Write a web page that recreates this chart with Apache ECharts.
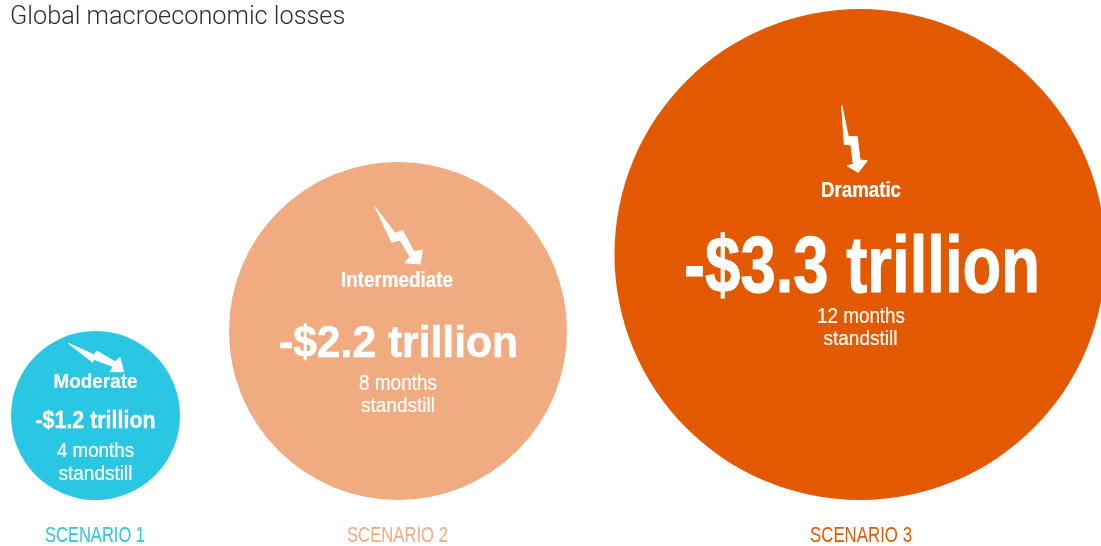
<!DOCTYPE html>
<html><head><meta charset="utf-8">
<style>html,body{margin:0;padding:0;background:#fff}#c{width:1101px;height:546px}</style>
<script src="https://cdn.jsdelivr.net/npm/echarts@6/dist/echarts.min.js"></script>
</head><body><div id="c"></div>
<script>
const titleText = 'Global macroeconomic losses';
const scenarios = ['SCENARIO 1', 'SCENARIO 2', 'SCENARIO 3'];
const severities = ['Moderate', 'Intermediate', 'Dramatic'];
const losses = ['-$1.2 trillion', '-$2.2 trillion', '-$3.3 trillion'];
const lossValues = [1.2, 2.2, 3.3];
const months = [4, 8, 12];

// layout (pixel-space axes); text spec = [y, fontSize, targetWidth, xOffset, strokeWidth]
const centerX = [95.5, 398, 860];
const diameters = [169, 338, 491];
const baseline = 500;
const colors = ['#29C7E3', '#F1AB80', '#E35900'];
const face = '"Liberation Sans",Arimo,sans-serif';
const layout = [
  { sev:[382,21,84,0,0.2], loss:[422,23,120,0,0.3], m1:[451,21,77,0,0.2], m2:[474,20,74,0,0.2], scen:[535.5,22,100,-0.5,0],
    bolt:[[-27.2,-72.2],[-1.2,-60.5],[1.2,-64.5],[19.5,-53.8],[24.5,-57.8],[28.2,-43.8],[14.5,-43.8],[17.8,-48.8],[-1.5,-56.2],[-2.8,-53.2]] },
  { sev:[281,22,112,-1,0.2], loss:[345,44,239,0.5,0.6], m1:[384,22,78,0,0.2], m2:[406,21,74,0,0.2], scen:[535.5,22,101,-0.5,0],
    bolt:[[-23,-124.3],[-3,-97.7],[4.7,-100.3],[16,-79.3],[24.3,-81],[22,-67],[7,-68.3],[12,-74.3],[2,-91],[-6.3,-88.7]] },
  { sev:[191,22,80,1,0.2], loss:[270,79,356,2,1], m1:[317,22,88,1,0.2], m2:[339,21,74,0.5,0.2], scen:[535.5,22,102,1,0],
    bolt:[[-18.3,-149.5],[-11.7,-117.8],[-2.7,-117.8],[0,-94.5],[7.3,-93.8],[-1.7,-82.2],[-12.7,-88.5],[-6.7,-90.5],[-9,-109.5],[-15.7,-110.2]] }
];

const measure = document.createElement('canvas').getContext('2d');
function txt(s, x, spec, weight, fill) {
  const font = weight+' '+spec[1]+'px '+face;
  measure.font = font;
  const sx = spec[2] / measure.measureText(s).width;
  return { type:'text', x:x+spec[3], y:spec[0], scaleX:sx, silent:true,
    style:{ text:s, fill:fill, textAlign:'center', textVerticalAlign:'middle', font:font,
            stroke: spec[4] ? fill : null, lineWidth: spec[4] } };
}

const chart = echarts.init(document.getElementById('c'), null, {renderer:'canvas'});
chart.setOption({
  animation:false,
  backgroundColor:'#fff',
  title:{ text:titleText, left:5, top:0,
    textStyle:{ fontFamily:'Roboto', fontWeight:300, fontSize:25.3, color:'#2e2e2e' } },
  grid:{ left:0, right:0, top:0, bottom:0 },
  xAxis:{ type:'value', min:0, max:1101, show:false },
  yAxis:{ type:'value', min:0, max:546, inverse:true, show:false },
  tooltip:{ show:false },
  series:[
    { type:'scatter', clip:false, silent:true, z:2,
      data: months.map((m,i)=>({ value:[centerX[i], baseline-diameters[i]/2, m],
        symbolSize:diameters[i], itemStyle:{ color:colors[i], opacity:1 } })) },
    { type:'custom', clip:false, silent:true, coordinateSystem:'cartesian2d', z:5,
      data: lossValues.map((v,i)=>[centerX[i], baseline-diameters[i]/2, v]),
      renderItem:(params, api)=>{
        const i = params.dataIndex;
        const c = api.coord([api.value(0), api.value(1)]);
        const L = layout[i];
        const W = '#fff';
        return { type:'group', children:[
          { type:'polygon', shape:{ points:L.bolt.map(p=>[c[0]+p[0], c[1]+p[1]]) },
            style:{ fill:W, stroke:W, lineWidth:1, lineJoin:'round' } },
          txt(severities[i], c[0], L.sev, 'bold', W),
          txt(losses[i], c[0], L.loss, 'bold', W),
          txt(months[i]+' months', c[0], L.m1, 'normal', W),
          txt('standstill', c[0], L.m2, 'normal', W),
          txt(scenarios[i], c[0], L.scen, 'normal', colors[i])
        ]};
      }
    }
  ]
});
</script></body></html>
